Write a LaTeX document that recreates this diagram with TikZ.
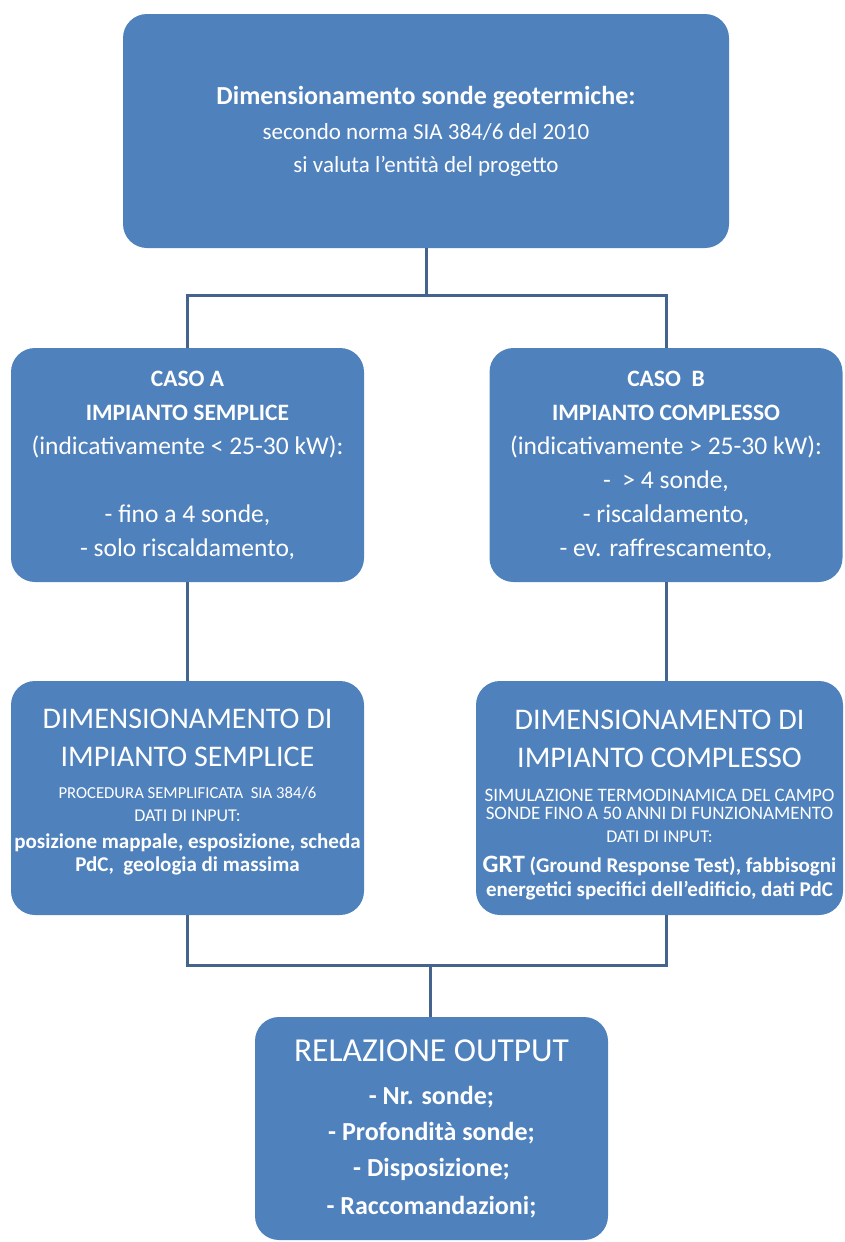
\documentclass[tikz,border=0pt]{standalone}
\usepackage{fontspec}
\setmainfont{Carlito}
\usetikzlibrary{positioning}

\definecolor{boxblue}{RGB}{79,129,189}
\definecolor{linkblue}{RGB}{68,100,142}

% one line of a box at a given size
\newcommand{\boxline}[2]{{\fontsize{#1}{#1}\selectfont #2}}
\newcommand{\boldline}[2]{{\fontsize{#1}{#1}\selectfont\bfseries #2}}
\newcommand{\tightlines}{\fontsize{22}{0}\selectfont\lineskiplimit -200pt\relax}

\begin{document}
\begin{tikzpicture}[x = 1pt, y = -1pt,
    box/.style = { fill = boxblue, rounded corners = 24pt, text = white,
                   align = center, inner sep = 0pt,
                   minimum width = 353pt, minimum height = 234pt,
                   font = \tightlines },
    link/.style = { draw = linkblue, line width = 3pt }]
    \useasboundingbox (0,0) rectangle (845,1242);

    % top
    \node [box, minimum width = 606pt] (top) at (426,131)
      { \boldline{26}{Dimensionamento sonde geotermiche:} \\[35pt]
        \boxline{23}{secondo norma SIA 384/6 del 2010} \\[33pt]
        \boxline{23}{si valuta l'entità del progetto} };

    % the two cases
    \node [box] (casoA) at (187.5,465)
      { \boldline{23.5}{CASO A} \\[34pt] \boldline{23.5}{IMPIANTO SEMPLICE} \\[34pt]
        \boxline{25.5}{(indicativamente < 25-30 kW):} \\[68pt]
        \boxline{25.5}{- fino a 4 sonde,} \\[34pt] \boxline{25.5}{- solo riscaldamento,} };
    \node [box] (casoB) at (666,465)
      { \boldline{23.5}{CASO~~B} \\[34pt] \boldline{23.5}{IMPIANTO COMPLESSO} \\[34pt]
        \boxline{25.5}{(indicativamente > 25-30 kW):} \\[34pt]
        \boxline{25.5}{- ~> 4 sonde,} \\[34pt]
        \boxline{25.5}{- riscaldamento,} \\[34pt] \boxline{25.5}{- ev. raffrescamento,} };

    % sizing (same block height in both, text starts at the same level)
    \node [box] (dimA) at (187.5,798)
      { ~ \\[33pt]
        \boxline{30}{DIMENSIONAMENTO DI} \\[38pt] \boxline{30}{IMPIANTO SEMPLICE} \\[32pt]
        \boxline{16.7}{PROCEDURA SEMPLIFICATA~~SIA 384/6} \\[23pt]
        \boxline{18}{DATI DI INPUT:} \\[27pt]
        \boldline{21}{posizione mappale, esposizione, scheda} \\[23pt]
        \boldline{21}{PdC,~~geologia di massima} \\[29pt] ~ };
    \node [box, minimum width = 367pt] (dimB) at (659.5,798)
      { ~ \\[33pt]
        \boxline{30}{DIMENSIONAMENTO DI} \\[38pt] \boxline{30}{IMPIANTO COMPLESSO} \\[34pt]
        \boxline{19}{SIMULAZIONE TERMODINAMICA DEL CAMPO} \\[18pt]
        \boxline{19}{SONDE FINO A 50 ANNI DI FUNZIONAMENTO} \\[23pt]
        \boxline{18}{DATI DI INPUT:} \\[30pt]
        \boldline{21}{{\fontsize{25}{25}\selectfont GRT} (Ground Response Test), fabbisogni} \\[24pt]
        \boldline{21}{energetici specifici dell'edificio, dati PdC} };

    % output
    \node [box, minimum height = 223pt] (out) at (431.5,1128.5)
      { \boxline{33.5}{RELAZIONE OUTPUT} \\[43pt]
        \boldline{26}{- Nr. sonde;} \\[36pt]
        \boldline{26}{- Profondità sonde;} \\[36pt]
        \boldline{26}{- Disposizione;} \\[38pt]
        \boldline{26}{- Raccomandazioni;} };

    % connectors
    \coordinate (fork) at (426,295);
    \coordinate (join) at (430,965);
    \draw [link] (top.south) -- (fork);
    \draw [link] (casoA.north) |- (fork) -| (casoB.north);
    \draw [link] (casoA.south) -- (dimA.north);
    \draw [link] (casoB.south) -- (casoB.south |- dimB.north);
    \draw [link] (dimA.south) |- (join) -| (dimB.south -| casoB.south);
    \draw [link] (join) -- (out.north -| join);
\end{tikzpicture}
\end{document}
